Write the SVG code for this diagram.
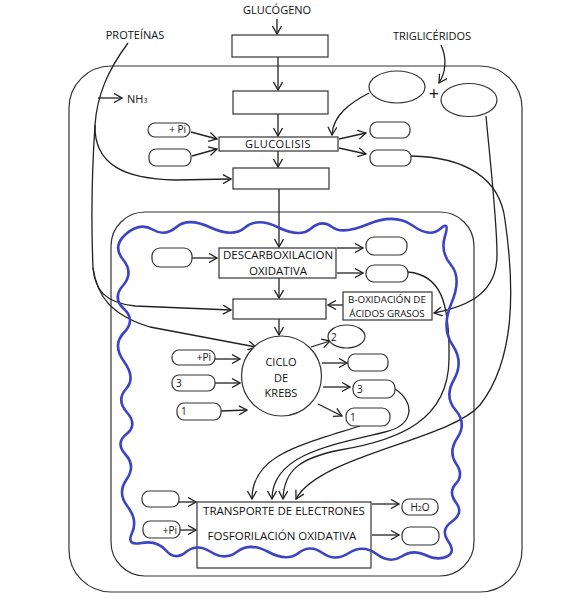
<svg xmlns="http://www.w3.org/2000/svg" width="588" height="600" viewBox="0 0 588 600">
<defs>
<marker id="ah" viewBox="-9 -5 10 10" refX="0" refY="0" markerWidth="10" markerHeight="10" markerUnits="userSpaceOnUse" orient="auto">
<path d="M-8,-4.5 L0,0 L-8,4.5" fill="none" stroke="#222" stroke-width="1.3"/>
</marker>
</defs>
<style>
text{font-family:"Open Sans","DejaVu Sans",sans-serif;fill:#111;font-size:11px}
.c{text-anchor:middle}
.box{fill:#fff;stroke:#333;stroke-width:1.2}
.pill{fill:#fff;stroke:#333;stroke-width:1.2}
.ln{fill:none;stroke:#222;stroke-width:1.3}
.ar{fill:none;stroke:#222;stroke-width:1.3;marker-end:url(#ah)}
.mem{fill:none;stroke:#333;stroke-width:1.2}
.sm{font-size:10px}
.md{font-size:11.5px}
.xs{font-size:9.8px}
.plus{font-size:18px}
</style>
<rect width="588" height="600" fill="#fff"/>
<g id="cell"><rect class="mem" x="69" y="66" width="453" height="526" rx="42"/></g>
<g id="mitochondrion"><rect class="mem" x="111" y="212" width="363" height="364" rx="34"/></g>
<g id="connectors">
<path class="ar" d="M277,19 L277,34"/>
<path class="ar" d="M278,57 L278,90"/>
<path class="ar" d="M278,114 L278,136"/>
<path class="ar" d="M278,151 L278,167"/>
<path class="ar" d="M279,189 L279,247"/>
<path class="ar" d="M279,278 L279,298"/>
<path class="ar" d="M279,319 L279,335"/>
<path class="ar" d="M191,132 L217,139"/>
<path class="ar" d="M192,156 L217,149"/>
<path class="ar" d="M339,139 L366,133"/>
<path class="ar" d="M339,148 L366,154"/>
<path class="ar" d="M369,93 C350,103 333,115 332,135"/>
<path class="ar" d="M441,45 C447,58 446,72 439,83"/>
<path class="ar" d="M128,43 C108,70 97,95 95,125 C94,165 125,179 175,180 L231,179"/>
<path class="ln" d="M95,125 C92,170 91,220 93,268"/>
<path class="ar" d="M93,268 C95,290 105,303 135,306 L231,310"/>
<path class="ar" d="M93,268 C97,295 110,315 150,327 L256,347"/>
<path class="ar" d="M98,98 L122,98"/>
<path class="ar" d="M192,258 L217,258"/>
<path class="ar" d="M337,248 L363,248"/>
<path class="ar" d="M337,273 L363,273"/>
<path class="ar" d="M343,305 L328,305"/>
<path class="ar" d="M486,116 C490,160 497,220 497,255 C497,292 470,306 434,313"/>
<path class="ar" d="M215,359 L240,359"/>
<path class="ar" d="M215,383 L240,383"/>
<path class="ar" d="M221,411 L247,410"/>
<path class="ar" d="M311,347 L330,341"/>
<path class="ar" d="M322,363 L347,363"/>
<path class="ar" d="M323,387 L350,387"/>
<path class="ar" d="M318,404 L342,416"/>
<path class="ar" d="M360,426 C300,445 252,455 252,499"/>
<path class="ar" d="M395,389 C415,402 415,425 385,432 C330,445 272,455 272,499"/>
<path class="ar" d="M408,272 C440,275 450,300 449,360 C448,420 400,440 340,450 C300,458 284,470 283,499"/>
<path class="ar" d="M411,156 C465,157 500,178 505,220 C515,290 515,360 480,405 C450,440 320,455 296,499"/>
<path class="ar" d="M179,502 L196,502"/>
<path class="ar" d="M180,530 L196,530"/>
<path class="ar" d="M372,504 L399,504"/>
<path class="ar" d="M372,535 L399,535"/>
</g>
<g id="labels">
<text class="c" x="277" y="14">GLUCÓGENO</text>
<text class="c" x="135" y="39">PROTEÍNAS</text>
<text class="c" x="432" y="40">TRIGLICÉRIDOS</text>
<text x="127" y="103">NH<tspan font-size="7">3</tspan></text>
<text class="c plus" x="434" y="100">+</text>
</g>
<g id="box1"><rect class="box" x="232" y="35" width="96" height="22"/></g>
<g id="box2"><rect class="box" x="233" y="91" width="95" height="23"/></g>
<g id="glucolisis"><rect class="box" x="219" y="137" width="119" height="14"/><text class="c" x="278" y="148" letter-spacing="0.5">GLUCOLISIS</text></g>
<g id="box3"><rect class="box" x="233" y="168" width="96" height="21"/></g>
<g id="pill-gl-pi"><rect class="pill" x="148" y="123" width="42" height="14" rx="7"/><text class="sm" x="186" y="133" text-anchor="end">+ Pi</text></g>
<g id="pill-gl-2"><rect class="pill" x="149" y="149" width="42" height="17" rx="7"/></g>
<g id="pill-gl-r1"><rect class="pill" x="370" y="122" width="40" height="16" rx="7"/></g>
<g id="pill-gl-r2"><rect class="pill" x="370" y="150" width="41" height="16" rx="7"/></g>
<g id="ellipse-tg1"><ellipse class="box" cx="397" cy="87" rx="28" ry="16"/></g>
<g id="ellipse-tg2"><ellipse class="box" cx="469" cy="100" rx="28" ry="16.5"/></g>
<g id="descarboxilacion"><rect class="box" x="219" y="248" width="117" height="30"/><text class="c md" x="278" y="259">DESCARBOXILACION</text><text class="c md" x="278" y="275">OXIDATIVA</text></g>
<g id="pill-dc-l"><rect class="pill" x="152" y="248" width="40" height="19" rx="8"/></g>
<g id="pill-dc-r1"><rect class="pill" x="366" y="237" width="41" height="18" rx="8"/></g>
<g id="pill-dc-r2"><rect class="pill" x="366" y="265" width="42" height="17" rx="8"/></g>
<g id="box4"><rect class="box" x="233" y="299" width="93" height="20"/></g>
<g id="b-oxidacion"><rect class="box" x="343" y="292" width="89" height="28"/><text class="c xs" x="387" y="303">B-OXIDACIÓN DE</text><text class="c xs" x="387" y="317">ÁCIDOS GRASOS</text></g>
<g id="krebs"><circle class="box" cx="281.5" cy="376" r="40"/><text class="c" x="281" y="366">CICLO</text><text class="c" x="281" y="382">DE</text><text class="c" x="281" y="397">KREBS</text></g>
<g id="pill-k-pi"><rect class="pill" x="172" y="350" width="43" height="15" rx="7"/><text class="sm" x="211" y="361" text-anchor="end">+Pi</text></g>
<g id="pill-k-3"><rect class="pill" x="172" y="375" width="43" height="16" rx="7"/><text class="sm" x="176" y="387">3</text></g>
<g id="pill-k-1"><rect class="pill" x="177" y="403" width="44" height="17" rx="7"/><text class="sm" x="181" y="415">1</text></g>
<g id="ellipse-2"><ellipse class="box" cx="346.5" cy="336.5" rx="18.5" ry="11.5"/><text class="sm" x="331" y="341">2</text></g>
<g id="pill-k-r1"><rect class="pill" x="348" y="354" width="40" height="17" rx="7"/></g>
<g id="pill-k-r3"><rect class="pill" x="353" y="380" width="42" height="18" rx="8"/><text class="sm" x="357" y="393">3</text></g>
<g id="pill-k-r1b"><rect class="pill" x="346" y="408" width="44" height="18" rx="8"/><text class="sm" x="350" y="421">1</text></g>
<g id="transporte"><rect x="197" y="502" width="174" height="66" fill="none" stroke="#333" stroke-width="1.2"/><text class="c md" x="284" y="515">TRANSPORTE DE ELECTRONES</text><text class="c md" x="282" y="540">FOSFORILACIÓN OXIDATIVA</text></g>
<g id="pill-t-l1"><rect class="pill" x="142" y="491" width="37" height="16" rx="7"/></g>
<g id="pill-t-pi"><rect class="pill" x="143" y="521" width="37" height="17" rx="7"/><text class="sm" x="177" y="534" text-anchor="end">+Pi</text></g>
<g id="pill-h2o"><rect class="pill" x="402" y="499" width="36" height="16" rx="7"/><text class="sm c" x="420" y="511">H<tspan font-size="7">2</tspan>O</text></g>
<g id="pill-t-r2"><rect class="pill" x="402" y="527" width="37" height="18" rx="8"/></g>
<g id="inner-membrane">
<path fill="none" stroke="#3a44c4" stroke-width="2.6" stroke-linejoin="round" d="M126,234 Q140,222 152.5,229.5 T176.5,227 T210.5,227.5 T245,227.5 T278.5,227.5 T311,228.5 T332,227 T368.5,224 T412.5,225.5 T440,229 T445,236 T451,265 T451.5,303 T452.5,345 T454,379.5 T455.5,410 T457.5,437.5 T456,463.5 T456,483.5 T456,502.5 T452,521.5 T448,541 T447,556.5 T425.5,555 T401.5,556.5 T376.5,554 T349,553 T322.5,553 T298.5,553 T268.5,552 T237.5,551.5 T211,552 T186,552 T166,550.5 T141.5,543 T132,533 T127.5,506.5 T126.5,479.5 T125.5,454.5 T126.5,434 T127,412.5 T126,389 T124,361.5 T124,332.5 T124,309 T123,285.5 T123,259.5 T126,234 Z"/>
</g>
</svg>
